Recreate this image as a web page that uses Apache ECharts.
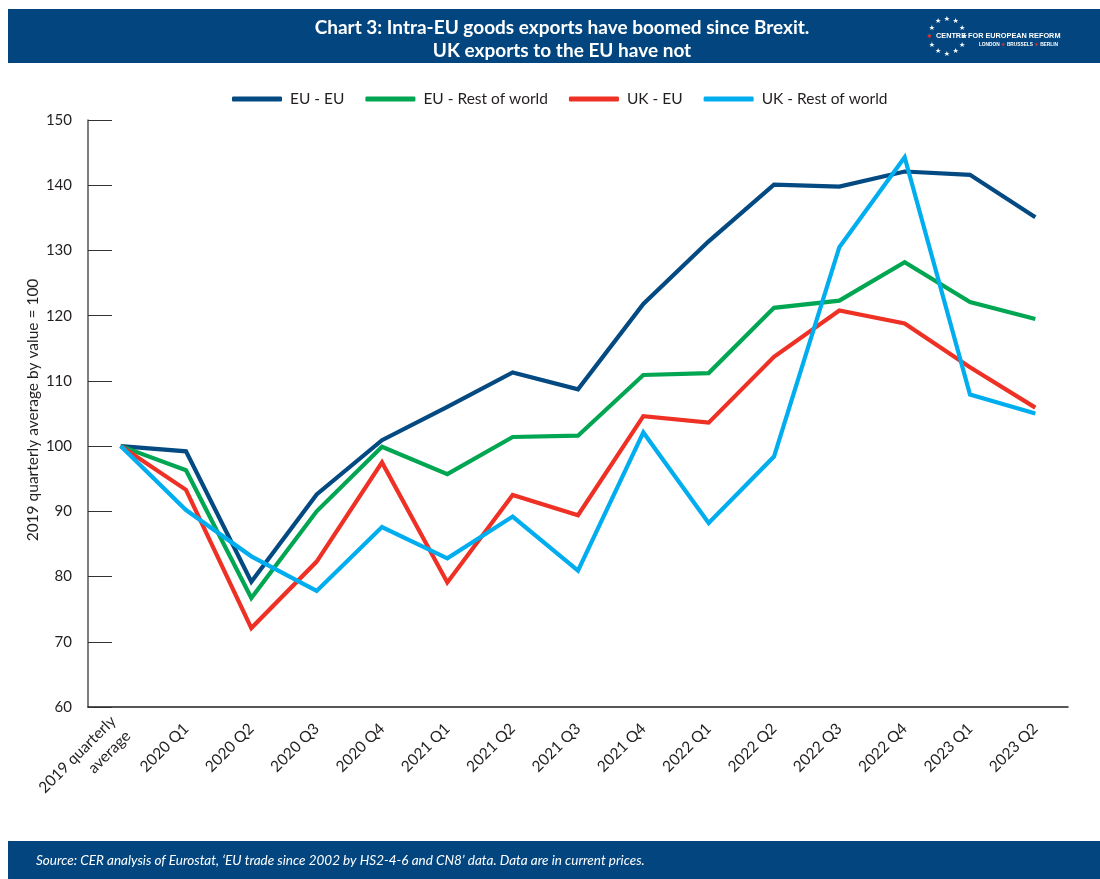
<!DOCTYPE html>
<html>
<head>
<meta charset="utf-8">
<script src="https://cdn.jsdelivr.net/npm/echarts@6/dist/echarts.min.js"></script>
<style>
html,body{margin:0;padding:0;background:#fff;}
#main{width:1100px;height:879px;}
</style>
</head>
<body>
<div id="main"></div>
<script>
// categories
var quarters = ['2019 quarterly\naverage', '2020 Q1', '2020 Q2', '2020 Q3', '2020 Q4', '2021 Q1', '2021 Q2', '2021 Q3',
	'2021 Q4', '2022 Q1', '2022 Q2', '2022 Q3', '2022 Q4', '2023 Q1', '2023 Q2'];
// series values (2019 quarterly average by value = 100)
var euEu = [100, 99.2, 79.2, 92.6, 100.9, 106.0, 111.3, 108.7, 121.8, 131.4, 140.1, 139.8, 142.1, 141.6, 135.1];
var euRow = [100, 96.3, 76.7, 90.0, 99.9, 95.7, 101.4, 101.6, 110.9, 111.2, 121.2, 122.3, 128.2, 122.1, 119.5];
var ukEu = [100, 93.3, 72.1, 82.3, 97.5, 79.1, 92.5, 89.4, 104.6, 103.6, 113.7, 120.8, 118.8, 112.1, 105.9];
var ukRow = [100, 90.2, 83.1, 77.8, 87.6, 82.8, 89.2, 80.9, 102.1, 88.2, 98.4, 130.5, 144.3, 107.9, 105.0];
var seriesNames = ['EU - EU', 'EU - Rest of world', 'UK - EU', 'UK - Rest of world'];
var seriesColors = ['#034a82', '#00a651', '#ee3124', '#00aeef'];

var FONT = 'Lato, "Open Sans", sans-serif';
var NAVY = '#03467f';

// ring of stars for the logo
function logoStars(cx, cy, r) {
	var out = [];
	for (var i = 0; i < 12; i++) {
		var a = i * Math.PI / 6;
		out.push({
			type: 'text',
			style: {
				x: cx + r * Math.cos(a), y: cy + r * Math.sin(a),
				text: '\u2605', fill: i == 6 ? '#ee3124' : '#fff',
				font: '7px "DejaVu Sans"', align: 'center', verticalAlign: 'middle'
			}
		});
	}
	return out;
}

var myChart = echarts.init(document.getElementById('main'));

var seriesList = [euEu, euRow, ukEu, ukRow].map(function (d, i) {
	return {
		name: seriesNames[i],
		type: 'line',
		data: d,
		symbol: 'none',
		lineStyle: {width: 4.2, color: seriesColors[i], join: 'miter'},
		itemStyle: {color: seriesColors[i]}
	};
});

var option = {
	animation: false,
	textStyle: {fontFamily: FONT},
	title: {
		text: 'Chart 3: Intra-EU goods exports have boomed since Brexit.\nUK exports to the EU have not',
		left: 557, top: 11, textAlign: 'center',
		textStyle: {color: '#fff', fontSize: 19, fontWeight: 'bold', lineHeight: 23, fontFamily: FONT}
	},
	legend: {
		top: 86, left: 227,
		itemWidth: 50, itemHeight: 5, itemGap: 21,
		icon: 'roundRect',
		textStyle: {fontSize: 15.5, color: '#231f20', fontFamily: FONT, padding: [0, 0, 0, 3]},
		data: seriesNames
	},
	grid: {left: 88, right: 32, top: 120, bottom: 172, containLabel: false},
	xAxis: {
		type: 'category',
		data: quarters,
		boundaryGap: true,
		axisLine: {lineStyle: {color: '#231f20', width: 1.5}},
		axisTick: {alignWithLabel: true, inside: true, length: 14, lineStyle: {color: '#231f20', width: 1.5}},
		axisLabel: {rotate: 45, fontSize: 15.5, color: '#231f20', margin: 19, interval: 0, lineHeight: 21, fontFamily: FONT}
	},
	yAxis: {
		type: 'value',
		min: 60, max: 150, interval: 10,
		axisLine: {show: true, lineStyle: {color: '#555', width: 1.5}},
		axisTick: {show: true, inside: true, length: 24, lineStyle: {color: '#333', width: 1}},
		axisLabel: {fontSize: 15, color: '#231f20', margin: 16, fontFamily: FONT},
		splitLine: {show: false}
	},
	graphic: [
		{type: 'rect', z: -1, shape: {x: 8, y: 9, width: 1092, height: 54}, style: {fill: NAVY}},
		{type: 'rect', z: -1, shape: {x: 8, y: 841, width: 1092, height: 40}, style: {fill: NAVY}},
		{
			type: 'text', z: 10, x: 33, y: 410, rotation: Math.PI / 2,
			style: {
				text: '2019 quarterly average by value = 100', fill: '#231f20',
				font: '15.5px ' + FONT, align: 'center', verticalAlign: 'middle'
			}
		},
		{
			type: 'text', z: 10,
			style: {
				x: 36, y: 861, text: "Source: CER analysis of Eurostat, \u2018EU trade since 2002 by HS2-4-6 and CN8\u2019 data. Data are in current prices.",
				fill: '#fff', font: 'italic 13.5px ' + FONT, verticalAlign: 'middle'
			}
		},
		{type: 'group', z: 10, children: logoStars(947, 36.5, 17.5).concat([
			{type: 'text', style: {x: 936, y: 36, text: 'CENTRE FOR EUROPEAN REFORM', fill: '#fff',
				font: 'bold 7.3px "Liberation Sans"', verticalAlign: 'middle'}},
			{type: 'text', style: {x: 1058, y: 44.5, text: 'LONDON {r|\u2605} BRUSSELS {r|\u2605} BERLIN', fill: '#fff',
				font: 'bold 4.8px "Liberation Sans"', align: 'right', verticalAlign: 'middle',
				rich: {r: {fill: '#ee3124', font: '5px "DejaVu Sans"'}}}}
		])}
	],
	series: seriesList
};

myChart.setOption(option);
</script>
</body>
</html>
